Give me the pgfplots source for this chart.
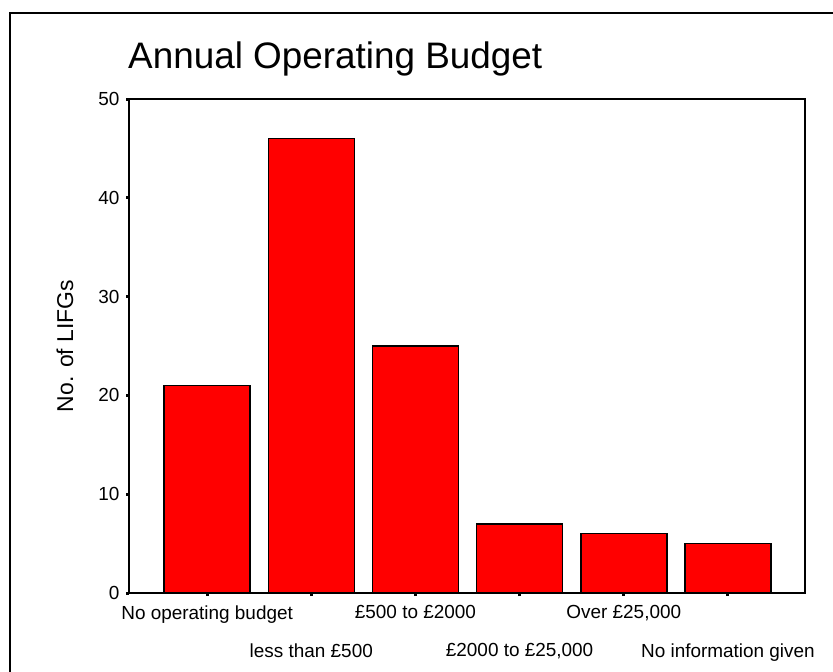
\documentclass[border=0pt]{standalone}
\usepackage{pgfplots}
\pgfplotsset{compat=1.18}
\usepackage{fontspec}
\setmainfont{Liberation Sans}
\begin{document}
\begin{tikzpicture}
\useasboundingbox (0,0) rectangle (833bp,-672bp);
\draw[line width=1.5bp] (10bp,-672bp) -- (10bp,-13bp) -- (833bp,-13bp);
\node[anchor=base west, font=\fontsize{37}{42}\selectfont, inner sep=0pt] at (128bp,-68bp) {Annual Operating Budget};
\begin{axis}[
  at={(129bp,-593bp)}, anchor=south west,
  width=676bp, height=494bp, scale only axis,
  xmin=-0.75, xmax=5.74, ymin=0, ymax=50,
  ytick={0,10,20,30,40,50},
  xtick={0,2,4},
  xticklabels={{No operating budget}, {£500 to £2000}, {Over £25,000}},
  extra x ticks={1,3,5},
  extra x tick labels={{less than £500}, {£2000 to £25,000}, {No information given}},
  xticklabel style={yshift=-6bp},
  extra x tick style={xticklabel style={yshift=-38bp}},
  yticklabel style={xshift=-3bp},
  axis line style={line width=1.5bp},
  tick align=outside,
  major tick length=3bp,
  tick style={line width=3bp, black},
  xtick pos=bottom, ytick pos=left,
  /pgf/number format/assume math mode=true,
  tick label style={font=\fontsize{19}{22}\selectfont},
  ylabel={No. of LIFGs},
  every axis y label/.style={at={(axis description cs:-0.0947,0.5)}, rotate=90, anchor=center, font=\fontsize{23}{27}\selectfont},
  clip=false,
]
\addplot[ybar, bar width=86bp, fill=red, draw=black, line width=1.5bp]
  coordinates {(0,21) (1,46) (2,25) (3,7) (4,6) (5,5)};
\end{axis}
\end{tikzpicture}
\end{document}
